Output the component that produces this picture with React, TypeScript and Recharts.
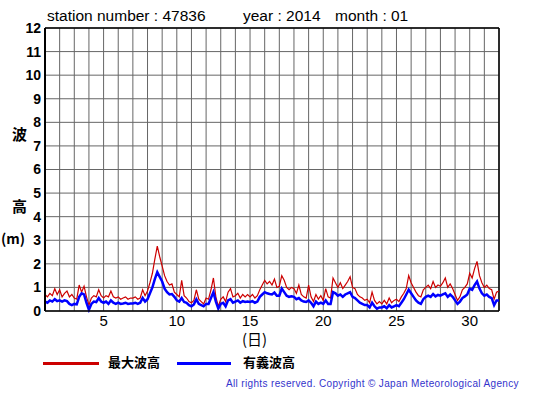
import React from 'react';
import {
  LineChart,
  Line,
  XAxis,
  YAxis,
  CartesianGrid,
  ReferenceLine,
} from 'recharts';

// sampling: 6 readings per day (every 4 hours), from day 1 00h to day 32 00h
const SAMPLES_PER_DAY = 6;

// 最大波高 (m), one row per day
const maxWave = [
  0.7, 0.6, 0.75, 0.65, 0.95, 0.7,
  0.9, 0.6, 0.75, 0.85, 0.6, 0.7,
  0.55, 0.5, 1.1, 0.8, 1.05, 0.6,
  0.25, 0.55, 0.65, 0.6, 0.9, 0.65,
  0.55, 0.65, 0.6, 0.85, 0.6, 0.55,
  0.6, 0.5, 0.55, 0.6, 0.5, 0.55,
  0.55, 0.6, 0.5, 0.55, 0.9, 0.65,
  0.85, 1.2, 1.6, 2.2, 2.75, 2.3,
  1.9, 1.5, 1.25, 1.1, 1.15, 0.8,
  0.7, 0.6, 1.3, 0.65, 0.55, 0.4,
  0.35, 0.45, 0.9, 0.5, 0.4, 0.3,
  0.55, 0.5, 0.9, 1.4, 0.6, 0.2,
  0.5, 0.6, 0.4, 0.8, 0.95, 0.6,
  0.65, 0.75, 0.55, 0.7, 0.6, 0.7,
  0.6, 0.7, 0.55, 0.65, 0.9, 1.1,
  1.3, 1.15, 1.25, 1.1, 1.35, 1.0,
  1.05, 1.5, 1.3, 1.0, 0.9, 1.0,
  0.95, 0.75, 1.1, 0.7, 0.6, 0.55,
  1.1, 0.6, 0.4, 0.7, 0.5, 0.65,
  0.45, 0.95, 0.6, 0.55, 1.4, 1.2,
  1.0, 1.2, 0.95, 1.1, 1.25, 1.45,
  1.0, 0.95, 0.7, 0.6, 0.55, 0.45,
  0.5, 0.35, 0.8, 0.45, 0.3, 0.4,
  0.3, 0.45, 0.3, 0.55, 0.35, 0.45,
  0.5, 0.4, 0.6, 0.75, 0.95, 1.5,
  1.2, 1.0, 0.8, 0.65, 0.6, 0.9,
  1.0, 1.1, 0.95, 1.25, 1.0, 1.1,
  1.05, 1.2, 1.4, 1.0, 1.15, 0.95,
  0.7, 0.45, 0.6, 0.9, 1.0, 1.15,
  1.6, 1.4, 1.8, 2.1, 1.5, 1.2,
  1.0, 1.1, 0.95, 0.9, 0.5, 0.8,
  0.85,
];

// 有義波高 (m)
const sigWave = [
  0.4, 0.35, 0.45, 0.4, 0.5, 0.42,
  0.45, 0.4, 0.45, 0.42, 0.3, 0.25,
  0.3, 0.28, 0.6, 0.75, 0.7, 0.35,
  0.05, 0.3, 0.4, 0.38, 0.55, 0.4,
  0.35, 0.4, 0.3, 0.45, 0.35, 0.3,
  0.35, 0.3, 0.32, 0.35, 0.3, 0.32,
  0.32, 0.35, 0.3, 0.35, 0.55, 0.4,
  0.5, 0.75, 1.0, 1.35, 1.65, 1.45,
  1.25, 0.95, 0.8, 0.7, 0.72, 0.6,
  0.45, 0.4, 0.55, 0.38, 0.35, 0.25,
  0.2, 0.28, 0.5, 0.3, 0.25, 0.2,
  0.3, 0.3, 0.55, 0.8, 0.4, 0.1,
  0.3, 0.35, 0.2, 0.45, 0.5, 0.35,
  0.4, 0.45, 0.35, 0.42, 0.38, 0.4,
  0.38, 0.42, 0.35, 0.4, 0.6, 0.7,
  0.8, 0.75, 0.72, 0.7, 0.78, 0.65,
  0.65, 0.95, 0.8, 0.65, 0.6, 0.62,
  0.6, 0.5, 0.55, 0.45, 0.4, 0.38,
  0.45, 0.35, 0.2, 0.4, 0.3, 0.35,
  0.3, 0.45, 0.3, 0.3, 0.8, 0.75,
  0.65, 0.7, 0.6, 0.7, 0.75, 0.8,
  0.6, 0.55, 0.45, 0.35, 0.3, 0.25,
  0.25, 0.15, 0.35, 0.2, 0.1, 0.15,
  0.15, 0.2, 0.12, 0.25, 0.15, 0.2,
  0.25, 0.2, 0.35, 0.5, 0.7, 0.9,
  0.75, 0.6, 0.45, 0.35, 0.3, 0.5,
  0.6, 0.65, 0.6, 0.72, 0.62, 0.68,
  0.65, 0.7, 0.75, 0.6, 0.7, 0.6,
  0.45, 0.3, 0.4, 0.55, 0.62, 0.7,
  0.95, 0.9, 1.1, 1.25, 0.95, 0.75,
  0.65, 0.7, 0.6, 0.55, 0.25, 0.45,
  0.45,
];

const dayTicks = Array.from({ length: 32 }, (_, i) => i + 1);
const heightTicks = [0, 1, 2, 3, 4, 5, 6, 7, 8, 9, 10, 11, 12];
const labelledDays = [5, 10, 15, 20, 25, 30];

const data = maxWave.map((v, i) => ({
  day: 1 + i / SAMPLES_PER_DAY,
  max: v,
  sig: sigWave[i],
}));

const font = '"Liberation Sans", Arial, Helvetica, sans-serif';
const cjk = '"Noto Sans CJK JP", sans-serif';

const abs = (left: number, top: number, extra: React.CSSProperties = {}): React.CSSProperties => ({
  position: 'absolute',
  left,
  top,
  whiteSpace: 'nowrap',
  lineHeight: 1,
  ...extra,
});

export default function App() {
  return (
    <div
      style={{
        position: 'absolute',
        left: 0,
        top: 0,
        width: 555,
        height: 395,
        background: '#fff',
        fontFamily: font,
        color: '#000',
      }}
    >
      <LineChart
        width={555}
        height={395}
        data={data}
        margin={{ top: 28, right: 56, bottom: 0, left: 0 }}
      >
        <CartesianGrid stroke="#666" strokeWidth={1} />
        <XAxis
          dataKey="day"
          type="number"
          domain={[1, 32]}
          ticks={dayTicks}
          interval={0}
          height={84}
          tickLine={false}
          tickSize={2}
          tickMargin={2}
          axisLine={{ stroke: '#000', strokeWidth: 1.5 }}
          tick={{ fill: '#000', fontSize: 15, fontFamily: font }}
          tickFormatter={(d: number) => (labelledDays.includes(d) ? String(d) : '')}
        />
        <YAxis
          type="number"
          domain={[0, 12]}
          ticks={heightTicks}
          interval={0}
          width={45}
          tickLine={false}
          tickSize={2}
          tickMargin={2}
          axisLine={{ stroke: '#000', strokeWidth: 2 }}
          tick={{ fill: '#000', fontSize: 14, fontWeight: 'bold', fontFamily: font }}
        />
        <ReferenceLine x={32} stroke="#000" strokeWidth={1.5} />
        <ReferenceLine y={12} stroke="#000" strokeWidth={1.5} />
        <Line
          type="linear"
          dataKey="max"
          stroke="#cc0000"
          strokeWidth={1.2}
          dot={false}
          isAnimationActive={false}
        />
        <Line
          type="linear"
          dataKey="sig"
          stroke="#0000ff"
          strokeWidth={2.5}
          dot={false}
          isAnimationActive={false}
        />
      </LineChart>

      {/* title */}
      <div style={abs(47, 8, { fontSize: 15.5 })}>station number : 47836</div>
      <div style={abs(243, 8, { fontSize: 15.5 })}>year : 2014</div>
      <div style={abs(335, 8, { fontSize: 15.5 })}>month : 01</div>

      {/* y axis title */}
      <div style={abs(12, 126, { fontSize: 15, fontWeight: 'bold', fontFamily: cjk })}>波</div>
      <div style={abs(12, 198, { fontSize: 15, fontWeight: 'bold', fontFamily: cjk })}>高</div>
      <div style={abs(1, 231, { fontSize: 14, fontWeight: 'bold', fontFamily: cjk })}>(m)</div>

      {/* x axis title */}
      <div style={abs(242, 331, { fontSize: 15, fontFamily: cjk })}>(日)</div>

      {/* legend */}
      <div style={abs(43, 362, { width: 56, height: 3, background: '#cc0000' })} />
      <div style={abs(108, 355, { fontSize: 13, fontWeight: 'bold', fontFamily: cjk })}>最大波高</div>
      <div style={abs(177, 362, { width: 54, height: 3, background: '#0000ff' })} />
      <div style={abs(243, 355, { fontSize: 13, fontWeight: 'bold', fontFamily: cjk })}>有義波高</div>

      <div
        style={abs(226, 379, {
          fontSize: 10,
          letterSpacing: 0.35,
          color: '#3333cc',
        })}
      >
        All rights reserved. Copyright © Japan Meteorological Agency
      </div>
    </div>
  );
}
